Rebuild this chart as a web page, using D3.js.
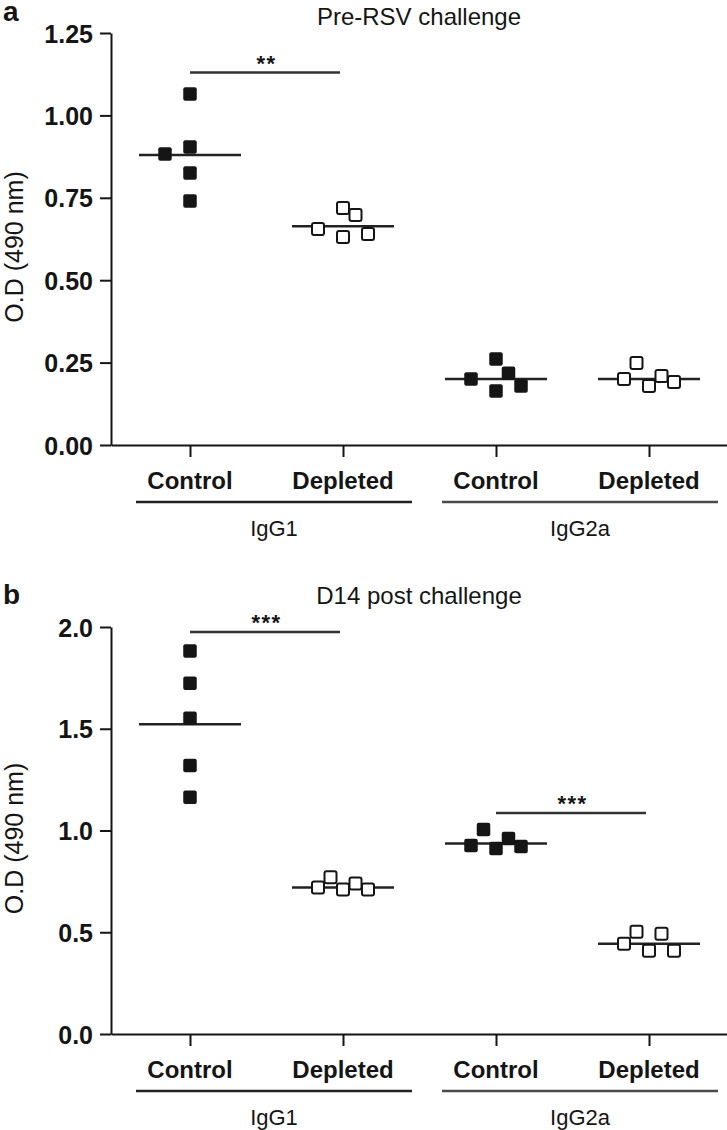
<!DOCTYPE html>
<html>
<head>
<meta charset="utf-8">
<script src="https://cdn.jsdelivr.net/npm/d3@7"></script>
<style>
  body { margin: 0; background: #fff; }
  svg { font-family: "Liberation Sans", Arial, sans-serif; }
</style>
</head>
<body>
<svg id="chart" width="727" height="1130"></svg>
<script>
// categories (two isotypes x two treatments)
const categories = ["Control", "Depleted", "Control", "Depleted"];
const groups = ["IgG1", "IgG2a"];

// panel a : Pre-RSV challenge, O.D (490 nm)
const preIgG1Control = [1.065, 0.904, 0.883, 0.825, 0.740];
const preIgG1Depleted = [0.655, 0.719, 0.698, 0.631, 0.640];
const preIgG2aControl = [0.200, 0.261, 0.218, 0.164, 0.179];
const preIgG2aDepleted = [0.200, 0.249, 0.179, 0.209, 0.191];
const preMeans = [0.880, 0.664, 0.200, 0.200];
const preTicks = [0, 0.25, 0.5, 0.75, 1.0, 1.25];

// panel b : D14 post challenge
const postIgG1Control = [1.882, 1.724, 1.552, 1.320, 1.163];
const postIgG1Depleted = [0.72, 0.77, 0.71, 0.74, 0.71];
const postIgG2aControl = [0.926, 1.005, 0.911, 0.961, 0.921];
const postIgG2aDepleted = [0.443, 0.502, 0.409, 0.493, 0.409];
const postMeans = [1.522, 0.720, 0.936, 0.443];
const postTicks = [0, 0.5, 1.0, 1.5, 2.0];

// significance brackets: [from category, to category, height, label]
const preSig = [[0, 1, 1.13, "**"]];
const postSig = [[0, 1, 1.975, "***"], [2, 3, 1.086, "***"]];

// horizontal scatter slots, so overlapping squares sit side by side
const preSlots = [[0, 0, -2, 0, 0], [-2, 0, 1, 0, 2], [-2, 0, 1, 0, 2], [-2, -1, 0, 1, 2]];
const postSlots = [[0, 0, 0, 0, 0], [-2, -1, 0, 1, 2], [-2, -1, 0, 1, 2], [-2, -1, 0, 1, 2]];

const svg = d3.select("#chart");
const axisX = 111;
const rightEdge = 727;
const slotW = 12.5;
const ink = "#151515";

// category x positions
const x = d3.scaleLinear().domain([0, 3]).range([190, 649]);

function drawPanel(p) {
    let y = d3.scaleLinear().domain([0, p.yMax]).range([p.bottom, p.top]);
    let g = svg.append("g");

    // panel letter and title
    g.append("text").attr("x", 3).attr("y", p.letterY)
        .attr("font-size", 28).attr("font-weight", "bold").attr("fill", ink)
        .text(p.letter);
    g.append("text").attr("x", (axisX + rightEdge) / 2).attr("y", p.titleY)
        .attr("text-anchor", "middle").attr("font-size", 24).attr("fill", ink)
        .text(p.title);

    // y axis
    let yAxis = g.append("g")
        .attr("transform", "translate(" + axisX + ",0)")
        .call(d3.axisLeft(y).tickValues(p.ticks).tickFormat(d3.format(p.fmt))
            .tickSize(11).tickSizeOuter(0).tickPadding(7));
    yAxis.selectAll("text").attr("font-size", 25).attr("font-weight", "bold")
        .attr("fill", ink).attr("dy", "0.36em").attr("font-family", null);
    yAxis.selectAll("line, path").attr("stroke", ink).attr("stroke-width", 2);

    // y label
    g.append("text")
        .attr("transform", "translate(23," + ((p.top + p.bottom) / 2 + 8) + ") rotate(-90)")
        .attr("text-anchor", "middle").attr("font-size", 25).attr("fill", ink)
        .text("O.D (490 nm)");

    // x axis, spanning to the right edge
    let xa = x.copy().domain([x.invert(axisX), x.invert(rightEdge)]).range([axisX, rightEdge]);
    let xAxis = g.append("g")
        .attr("transform", "translate(0," + p.bottom + ")")
        .call(d3.axisBottom(xa).tickValues([0, 1, 2, 3]).tickFormat("")
            .tickSize(12).tickSizeOuter(0));
    xAxis.selectAll("line, path").attr("stroke", ink).attr("stroke-width", 2);

    // category labels
    g.selectAll(".cat").data(categories).enter().append("text")
        .attr("x", (d, i) => x(i)).attr("y", p.bottom + 44)
        .attr("text-anchor", "middle").attr("font-size", 24).attr("font-weight", "bold")
        .attr("fill", ink).text(d => d);

    // group underlines and names
    groups.forEach((name, k) => {
        let x0 = x(2 * k) - 54, x1 = x(2 * k + 1) + 69;
        g.append("line").attr("x1", x0).attr("x2", x1)
            .attr("y1", p.bottom + 57).attr("y2", p.bottom + 57)
            .attr("stroke", k == 0 ? "#222" : "#4a4a4a").attr("stroke-width", 2.5);
        g.append("text").attr("x", (x0 + x1) / 2).attr("y", p.bottom + 91)
            .attr("text-anchor", "middle").attr("font-size", 22).attr("fill", ink)
            .text(name);
    });

    // mean lines
    g.selectAll(".mean").data(p.means).enter().append("line")
        .attr("x1", (d, i) => x(i) - 51).attr("x2", (d, i) => x(i) + 51)
        .attr("y1", d => y(d)).attr("y2", d => y(d))
        .attr("stroke", "#222").attr("stroke-width", 2.5);

    // points: filled squares for control, open squares for depleted
    p.series.forEach((vals, i) => {
        let open = i % 2 == 1;
        let s = open ? 12 : 13.5;
        g.selectAll(".pt" + i).data(vals).enter().append("rect")
            .attr("x", (d, j) => x(i) + p.slots[i][j] * slotW - s / 2)
            .attr("y", d => y(d) - s / 2)
            .attr("width", s).attr("height", s).attr("rx", 2)
            .attr("fill", open ? "#fff" : ink)
            .attr("stroke", open ? ink : "none")
            .attr("stroke-width", 2);
    });

    // significance brackets
    p.sig.forEach(([a, b, h, label]) => {
        g.append("line").attr("x1", x(a)).attr("x2", x(b) - 3)
            .attr("y1", y(h)).attr("y2", y(h))
            .attr("stroke", "#333").attr("stroke-width", 2.5);
        g.append("text").attr("x", (x(a) + x(b)) / 2).attr("y", y(h) - 2)
            .attr("text-anchor", "middle").attr("font-size", 22).attr("font-weight", "bold")
            .attr("letter-spacing", 1.5).attr("fill", ink).text(label);
    });
}

drawPanel({
    letter: "a", letterY: 21, title: "Pre-RSV challenge", titleY: 25,
    yMax: 1.25, top: 33, bottom: 445, ticks: preTicks, fmt: ".2f",
    series: [preIgG1Control, preIgG1Depleted, preIgG2aControl, preIgG2aDepleted],
    means: preMeans, slots: preSlots, sig: preSig
});

drawPanel({
    letter: "b", letterY: 604, title: "D14 post challenge", titleY: 604,
    yMax: 2, top: 627, bottom: 1034, ticks: postTicks, fmt: ".1f",
    series: [postIgG1Control, postIgG1Depleted, postIgG2aControl, postIgG2aDepleted],
    means: postMeans, slots: postSlots, sig: postSig
});
</script>
</body>
</html>
